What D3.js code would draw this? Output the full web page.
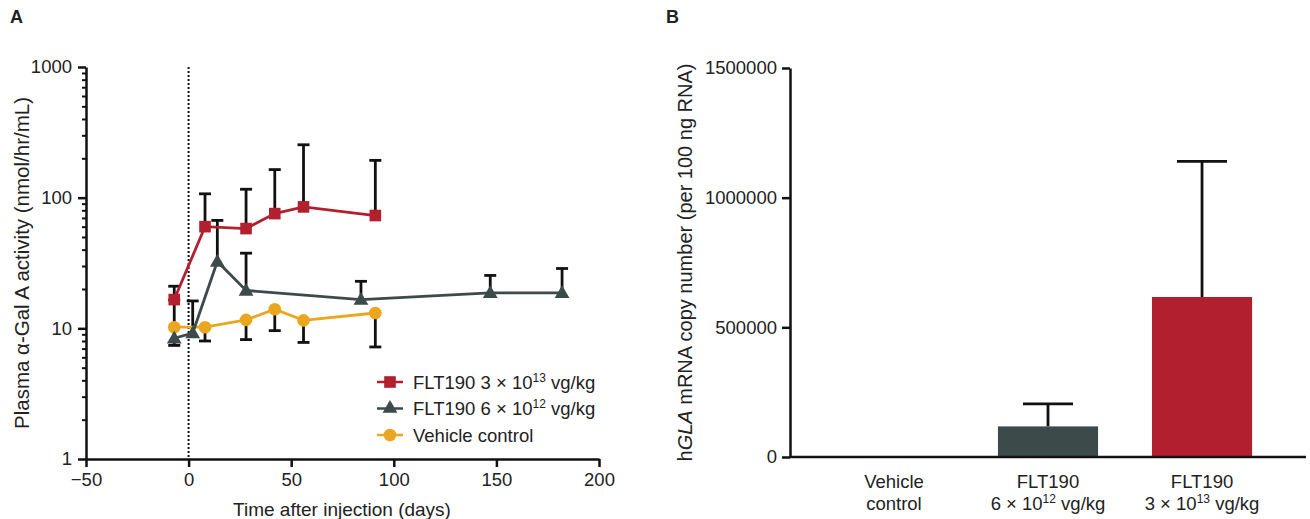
<!DOCTYPE html>
<html><head><meta charset="utf-8">
<script src="https://cdn.jsdelivr.net/npm/d3@7"></script>
<style>
body{margin:0;background:#fff;}
text{font-family:"Liberation Sans",Arial,sans-serif;fill:#222;}
</style></head>
<body>
<svg id="c" width="1310" height="519"></svg>
<script>
// ---------- Panel A data ----------
const daysHigh = [-7, 8, 28, 42, 56, 91];
const valHigh  = [16.6, 60, 58, 75.5, 85, 73];
const errHigh  = [21, 107, 116, 164, 254, 193];        // upper error bound

const daysLow  = [-7, 2, 14, 28, 84, 147, 182];
const valLow   = [8.4, 9.2, 32.5, 19.5, 16.6, 18.7, 18.7];
const errLow   = [16.5, 16.2, 67, 37.6, 22.9, 25.4, 28.7]; // upper error bound

const daysVeh  = [-7, 8, 28, 42, 56, 91];
const valVeh   = [10.2, 10.2, 11.6, 14, 11.5, 13.1];
const errVeh   = [7.4, 8.0, 8.2, 9.6, 7.8, 7.2];        // lower error bound

const xTicksA = [-50, 0, 50, 100, 150, 200];
const yTicksA = [1, 10, 100, 1000];

// ---------- Panel B data ----------
const groupsB = ["veh", "low", "high"];
const barVals = [0, 118000, 617000];
const barErrs = [0, 205000, 1140000];                   // upper error bound
const yTicksB = [0, 500000, 1000000, 1500000];

const RED = "#b2202f", GRAY = "#3c4a4a", YEL = "#eba620";
const FONT = '"Liberation Sans",Arial,sans-serif';

const svg = d3.select("#c");

// ================= Panel A =================
const xA = d3.scaleLinear().domain([-50, 200]).range([86, 599]);
const yA = d3.scaleLog().domain([1, 1000]).range([459, 67]);

const gA = svg.append("g");

// y axis
const minor = [];
for (let d = 1; d < 1000; d *= 10) for (let m = 2; m <= 9; m++) minor.push(d * m);
gA.append("g").attr("transform", `translate(${xA(-50)},0)`)
  .call(d3.axisLeft(yA).tickValues(minor).tickSize(4).tickFormat("").tickSizeOuter(0))
  .call(g => { g.select(".domain").remove(); g.selectAll("line").attr("stroke", "#111").attr("stroke-width", 2); });
gA.append("g").attr("transform", `translate(${xA(-50)},0)`)
  .call(d3.axisLeft(yA).tickValues(yTicksA).tickSize(8).tickFormat(d3.format("d")).tickSizeOuter(0))
  .call(g => {
    g.select(".domain").attr("stroke", "#111").attr("stroke-width", 2.5);
    g.selectAll("line").attr("stroke", "#111").attr("stroke-width", 2.5);
    g.selectAll("text").attr("font-size", 18.5).attr("fill", "#222").attr("font-family", FONT).attr("x", -14);
  });

// x axis
gA.append("g").attr("transform", `translate(0,${yA(1)})`)
  .call(d3.axisBottom(xA).tickValues(xTicksA).tickSize(8).tickSizeOuter(0))
  .call(g => {
    g.select(".domain").attr("stroke", "#111").attr("stroke-width", 2.5);
    g.selectAll("line").attr("stroke", "#111").attr("stroke-width", 2.5);
    g.selectAll("text").attr("font-size", 18.5).attr("fill", "#222").attr("font-family", FONT).attr("y", 14);
  });

// dotted line at day 0
gA.append("line").attr("x1", xA(0)).attr("x2", xA(0)).attr("y1", yA(1000)).attr("y2", yA(1))
  .attr("stroke", "#111").attr("stroke-width", 2).attr("stroke-dasharray", "2,2");

// titles
svg.append("text").attr("x", 10).attr("y", 23).attr("font-size", 18).attr("font-weight", "bold").text("A");
svg.append("text").attr("x", 342).attr("y", 516).attr("text-anchor", "middle").attr("font-size", 19)
  .text("Time after injection (days)");
svg.append("text").attr("transform", `translate(29,${(yA(1) + yA(1000)) / 2}) rotate(-90)`)
  .attr("text-anchor", "middle").attr("font-size", 20.5).text("Plasma α-Gal A activity (nmol/hr/mL)");

function drawSeries(days, vals, errs, color, shape) {
  const pts = days.map((d, i) => ({x: d, y: vals[i], e: errs[i]}));
  const g = gA.append("g");
  pts.forEach(p => {
    g.append("line").attr("x1", xA(p.x)).attr("x2", xA(p.x)).attr("y1", yA(p.y)).attr("y2", yA(p.e))
      .attr("stroke", "#111").attr("stroke-width", 2.8);
    g.append("line").attr("x1", xA(p.x) - 6).attr("x2", xA(p.x) + 6).attr("y1", yA(p.e)).attr("y2", yA(p.e))
      .attr("stroke", "#111").attr("stroke-width", 2.8);
  });
  return {g, pts, color, shape};
}
const sVeh = drawSeries(daysVeh, valVeh, errVeh, YEL, d3.symbolCircle);
const sLow = drawSeries(daysLow, valLow, errLow, GRAY, d3.symbolTriangle);
const sHigh = drawSeries(daysHigh, valHigh, errHigh, RED, d3.symbolSquare);

const line = d3.line().x(p => xA(p.x)).y(p => yA(p.y));
function symbolOf(shape) {
  if (shape === d3.symbolCircle) return d3.symbol(shape, 125)();
  if (shape === d3.symbolSquare) return d3.symbol(shape, 135)();
  return d3.symbol(shape, 95)();
}
[sVeh, sLow, sHigh].forEach(s => {
  gA.append("path").datum(s.pts).attr("d", line).attr("fill", "none").attr("stroke", s.color).attr("stroke-width", 2.8);
});
[sVeh, sLow, sHigh].forEach(s => {
  gA.append("g").selectAll("path").data(s.pts).join("path")
    .attr("transform", p => `translate(${xA(p.x)},${yA(p.y) + (s.shape === d3.symbolTriangle ? 1 : 0)})`)
    .attr("d", symbolOf(s.shape)).attr("fill", s.color);
});

// legend
const legend = [
  {color: RED, shape: d3.symbolSquare, parts: ["FLT190 3 × 10", "13", " vg/kg"]},
  {color: GRAY, shape: d3.symbolTriangle, parts: ["FLT190 6 × 10", "12", " vg/kg"]},
  {color: YEL, shape: d3.symbolCircle, parts: ["Vehicle control"]}
];
legend.forEach((L, i) => {
  const y = 382 + i * 26.5;
  const g = svg.append("g");
  g.append("line").attr("x1", 377).attr("x2", 403).attr("y1", y).attr("y2", y).attr("stroke", L.color).attr("stroke-width", 2.5);
  g.append("path").attr("transform", `translate(390,${y})`).attr("d", symbolOf(L.shape)).attr("fill", L.color);
  const t = g.append("text").attr("x", 413).attr("y", y + 6.5).attr("font-size", 18.5);
  t.append("tspan").text(L.parts[0]);
  if (L.parts.length > 1) {
    t.append("tspan").attr("font-size", 12).attr("dy", -7).text(L.parts[1]);
    t.append("tspan").attr("dy", 7).text(L.parts[2]);
  }
});

// ================= Panel B =================
const xB = d3.scaleBand().domain(groupsB).range([790, 1306]).padding(0.35);
const yB = d3.scaleLinear().domain([0, 1500000]).range([457, 68]);
const gB = svg.append("g");

gB.append("g").attr("transform", `translate(790,0)`)
  .call(d3.axisLeft(yB).tickValues(yTicksB).tickSize(8).tickFormat(d3.format("d")).tickSizeOuter(0))
  .call(g => {
    g.select(".domain").attr("stroke", "#111").attr("stroke-width", 2.5);
    g.selectAll("line").attr("stroke", "#111").attr("stroke-width", 2.5);
    g.selectAll("text").attr("font-size", 18.5).attr("fill", "#222").attr("font-family", FONT).attr("x", -13);
  });

const barColors = ["#ffffff", GRAY, RED];
groupsB.forEach((k, i) => {
  if (barErrs[i] <= 0) return;
  const cx = xB(k) + xB.bandwidth() / 2;
  gB.append("line").attr("x1", cx).attr("x2", cx).attr("y1", yB(barVals[i])).attr("y2", yB(barErrs[i]))
    .attr("stroke", "#111").attr("stroke-width", 2.8);
  gB.append("line").attr("x1", cx - 25).attr("x2", cx + 25).attr("y1", yB(barErrs[i])).attr("y2", yB(barErrs[i]))
    .attr("stroke", "#111").attr("stroke-width", 2.8);
});
gB.selectAll("rect.bar").data(groupsB).join("rect").attr("class", "bar")
  .attr("x", k => xB(k)).attr("width", xB.bandwidth())
  .attr("y", (k, i) => yB(barVals[i])).attr("height", (k, i) => yB(0) - yB(barVals[i]))
  .attr("fill", (k, i) => barColors[i]);

gB.append("line").attr("x1", 790).attr("x2", 1306).attr("y1", yB(0)).attr("y2", yB(0))
  .attr("stroke", "#111").attr("stroke-width", 2.5);

const catLabels = [
  [["Vehicle"], ["control"]],
  [["FLT190"], ["6 × 10", "12", " vg/kg"]],
  [["FLT190"], ["3 × 10", "13", " vg/kg"]]
];
groupsB.forEach((k, i) => {
  const cx = xB(k) + xB.bandwidth() / 2;
  catLabels[i].forEach((parts, j) => {
    const t = gB.append("text").attr("x", cx).attr("y", 488 + j * 22).attr("text-anchor", "middle").attr("font-size", 18.5);
    t.append("tspan").text(parts[0]);
    if (parts.length > 1) {
      t.append("tspan").attr("font-size", 12).attr("dy", -7).text(parts[1]);
      t.append("tspan").attr("dy", 7).text(parts[2]);
    }
  });
});

svg.append("text").attr("x", 666).attr("y", 23).attr("font-size", 18).attr("font-weight", "bold").text("B");
const yt = svg.append("text").attr("transform", `translate(692,${(yB(0) + yB(1500000)) / 2}) rotate(-90)`)
  .attr("text-anchor", "middle").attr("font-size", 20);
yt.append("tspan").text("h");
yt.append("tspan").attr("font-style", "italic").text("GLA");
yt.append("tspan").text(" mRNA copy number (per 100 ng RNA)");
</script>
</body></html>
